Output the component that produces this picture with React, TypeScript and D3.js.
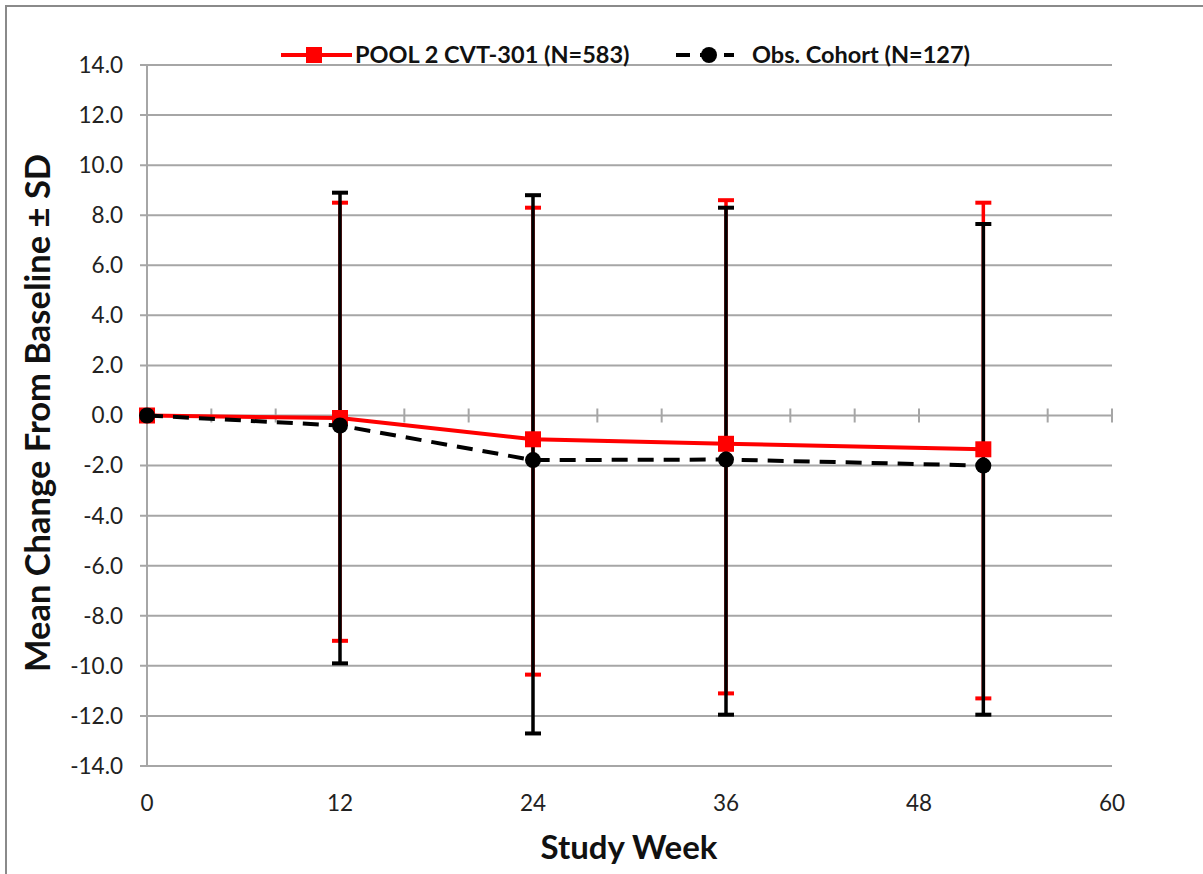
import React, { useEffect, useRef } from 'react';
import * as d3 from 'd3';

const weeks = [0, 12, 24, 36, 52];

// POOL 2 CVT-301 (N=583)
const poolMean = [0, -0.1, -0.95, -1.13, -1.35];
const poolUpper = [0, 8.5, 8.3, 8.6, 8.5];
const poolLower = [0, -9.0, -10.35, -11.1, -11.3];

// Obs. Cohort (N=127)
const obsMean = [0, -0.4, -1.78, -1.76, -2.0];
const obsUpper = [0, 8.9, 8.8, 8.3, 7.65];
const obsLower = [0, -9.9, -12.7, -11.95, -11.95];

const yTicks = d3.range(-14, 14.01, 2);
const xLabelTicks = [0, 12, 24, 36, 48, 60];
const xMinorTicks = d3.range(0, 60.01, 4);

const FONT = 'Lato, "Open Sans", sans-serif';

const App = () => {
  const svgRef = useRef<SVGSVGElement>(null);

  useEffect(() => {
    const width = 1203;
    const height = 874;
    const margin = { top: 65, right: 91, bottom: 108, left: 147 };
    const innerW = width - margin.left - margin.right;
    const innerH = height - margin.top - margin.bottom;

    const svg = d3.select(svgRef.current);
    svg.selectAll('*').remove();

    // outer frame
    svg.append('rect')
      .attr('x', 6).attr('y', 6)
      .attr('width', width + 20).attr('height', height + 20)
      .attr('fill', 'white')
      .attr('stroke', '#8a8a8a')
      .attr('stroke-width', 2);

    const g = svg.append('g')
      .attr('transform', `translate(${margin.left},${margin.top})`);

    const x = d3.scaleLinear().domain([0, 60]).range([0, innerW]);
    const y = d3.scaleLinear().domain([-14, 14]).range([innerH, 0]);

    // horizontal gridlines
    g.append('g')
      .selectAll('line')
      .data(yTicks)
      .enter()
      .append('line')
      .attr('x1', -7)
      .attr('x2', innerW)
      .attr('y1', d => y(d))
      .attr('y2', d => y(d))
      .attr('stroke', '#a6a6a6')
      .attr('stroke-width', 2);

    // y axis line
    g.append('line')
      .attr('x1', 0).attr('x2', 0)
      .attr('y1', 0).attr('y2', innerH)
      .attr('stroke', '#a6a6a6')
      .attr('stroke-width', 2);

    // x axis at zero, tick marks crossing it
    g.append('g')
      .selectAll('line')
      .data(xMinorTicks)
      .enter()
      .append('line')
      .attr('x1', d => x(d))
      .attr('x2', d => x(d))
      .attr('y1', y(0) - 7)
      .attr('y2', y(0) + 7)
      .attr('stroke', '#a6a6a6')
      .attr('stroke-width', 2);

    // y tick labels
    g.append('g')
      .selectAll('text')
      .data(yTicks)
      .enter()
      .append('text')
      .attr('x', -24)
      .attr('y', d => y(d))
      .attr('dy', '0.35em')
      .attr('text-anchor', 'end')
      .attr('font-family', FONT)
      .attr('font-size', 22.5)
      .attr('fill', '#222')
      .text(d => (Math.abs(d) < 1e-9 ? 0 : d).toFixed(1));

    // x tick labels
    g.append('g')
      .selectAll('text')
      .data(xLabelTicks)
      .enter()
      .append('text')
      .attr('x', d => x(d))
      .attr('y', innerH + 37)
      .attr('dy', '0.35em')
      .attr('text-anchor', 'middle')
      .attr('font-family', FONT)
      .attr('font-size', 22.5)
      .attr('fill', '#222')
      .text(d => d);

    // axis titles
    svg.append('text')
      .attr('x', 629)
      .attr('y', 859)
      .attr('text-anchor', 'middle')
      .attr('font-family', FONT)
      .attr('font-weight', 'bold')
      .attr('font-size', 33)
      .attr('fill', '#111')
      .text('Study Week');

    svg.append('text')
      .attr('transform', `translate(50,${413}) rotate(-90)`)
      .attr('text-anchor', 'middle')
      .attr('font-family', FONT)
      .attr('font-weight', 'bold')
      .attr('font-size', 34.5)
      .attr('fill', '#111')
      .text('Mean Change From Baseline \u00b1 SD');

    const series = [
      { mean: poolMean, upper: poolUpper, lower: poolLower, color: '#ff0000', dash: null, marker: 'square' },
      { mean: obsMean, upper: obsUpper, lower: obsLower, color: '#000000', dash: '16,10', marker: 'circle' },
    ];

    // error bars
    series.forEach(s => {
      const eb = g.append('g');
      weeks.forEach((w, i) => {
        if (s.upper[i] === s.lower[i]) return;
        eb.append('line')
          .attr('x1', x(w)).attr('x2', x(w))
          .attr('y1', y(s.upper[i])).attr('y2', y(s.lower[i]))
          .attr('stroke', s.color)
          .attr('stroke-width', 3.5);
        [s.upper[i], s.lower[i]].forEach(v => {
          eb.append('line')
            .attr('x1', x(w) - 8).attr('x2', x(w) + 8)
            .attr('y1', y(v)).attr('y2', y(v))
            .attr('stroke', s.color)
            .attr('stroke-width', 4);
        });
      });
    });

    // lines and markers
    series.forEach(s => {
      const pts = weeks.map((w, i) => [w, s.mean[i]] as [number, number]);
      const line = d3.line<[number, number]>()
        .x(d => x(d[0]))
        .y(d => y(d[1]));
      const path = g.append('path')
        .datum(pts)
        .attr('d', line)
        .attr('fill', 'none')
        .attr('stroke', s.color)
        .attr('stroke-width', 4);
      if (s.dash) path.attr('stroke-dasharray', s.dash);

      if (s.marker === 'square') {
        g.append('g')
          .selectAll('rect')
          .data(pts)
          .enter()
          .append('rect')
          .attr('x', d => x(d[0]) - 8)
          .attr('y', d => y(d[1]) - 8)
          .attr('width', 16)
          .attr('height', 16)
          .attr('fill', s.color);
      } else {
        g.append('g')
          .selectAll('circle')
          .data(pts)
          .enter()
          .append('circle')
          .attr('cx', d => x(d[0]))
          .attr('cy', d => y(d[1]))
          .attr('r', 8)
          .attr('fill', s.color);
      }
    });

    // legend
    const legend = svg.append('g').attr('transform', 'translate(0,55)');
    legend.append('line')
      .attr('x1', 281).attr('x2', 352)
      .attr('stroke', '#ff0000').attr('stroke-width', 4);
    legend.append('rect')
      .attr('x', 306).attr('y', -8).attr('width', 16).attr('height', 16)
      .attr('fill', '#ff0000');
    legend.append('text')
      .attr('x', 355).attr('dy', '0.35em')
      .attr('font-family', FONT).attr('font-weight', 'bold').attr('font-size', 23.5)
      .attr('fill', '#111')
      .text('POOL 2 CVT-301 (N=583)');
    legend.append('line')
      .attr('x1', 676).attr('x2', 734)
      .attr('stroke', '#000').attr('stroke-width', 4)
      .attr('stroke-dasharray', '14,10');
    legend.append('circle')
      .attr('cx', 709).attr('r', 8).attr('fill', '#000');
    legend.append('text')
      .attr('x', 752).attr('dy', '0.35em')
      .attr('font-family', FONT).attr('font-weight', 'bold').attr('font-size', 23.5)
      .attr('fill', '#111')
      .text('Obs. Cohort (N=127)');
  }, []);

  return (
    <svg
      ref={svgRef}
      width={1203}
      height={874}
      style={{ position: 'absolute', left: 0, top: 0, background: 'white' }}
    ></svg>
  );
};

export default App;
